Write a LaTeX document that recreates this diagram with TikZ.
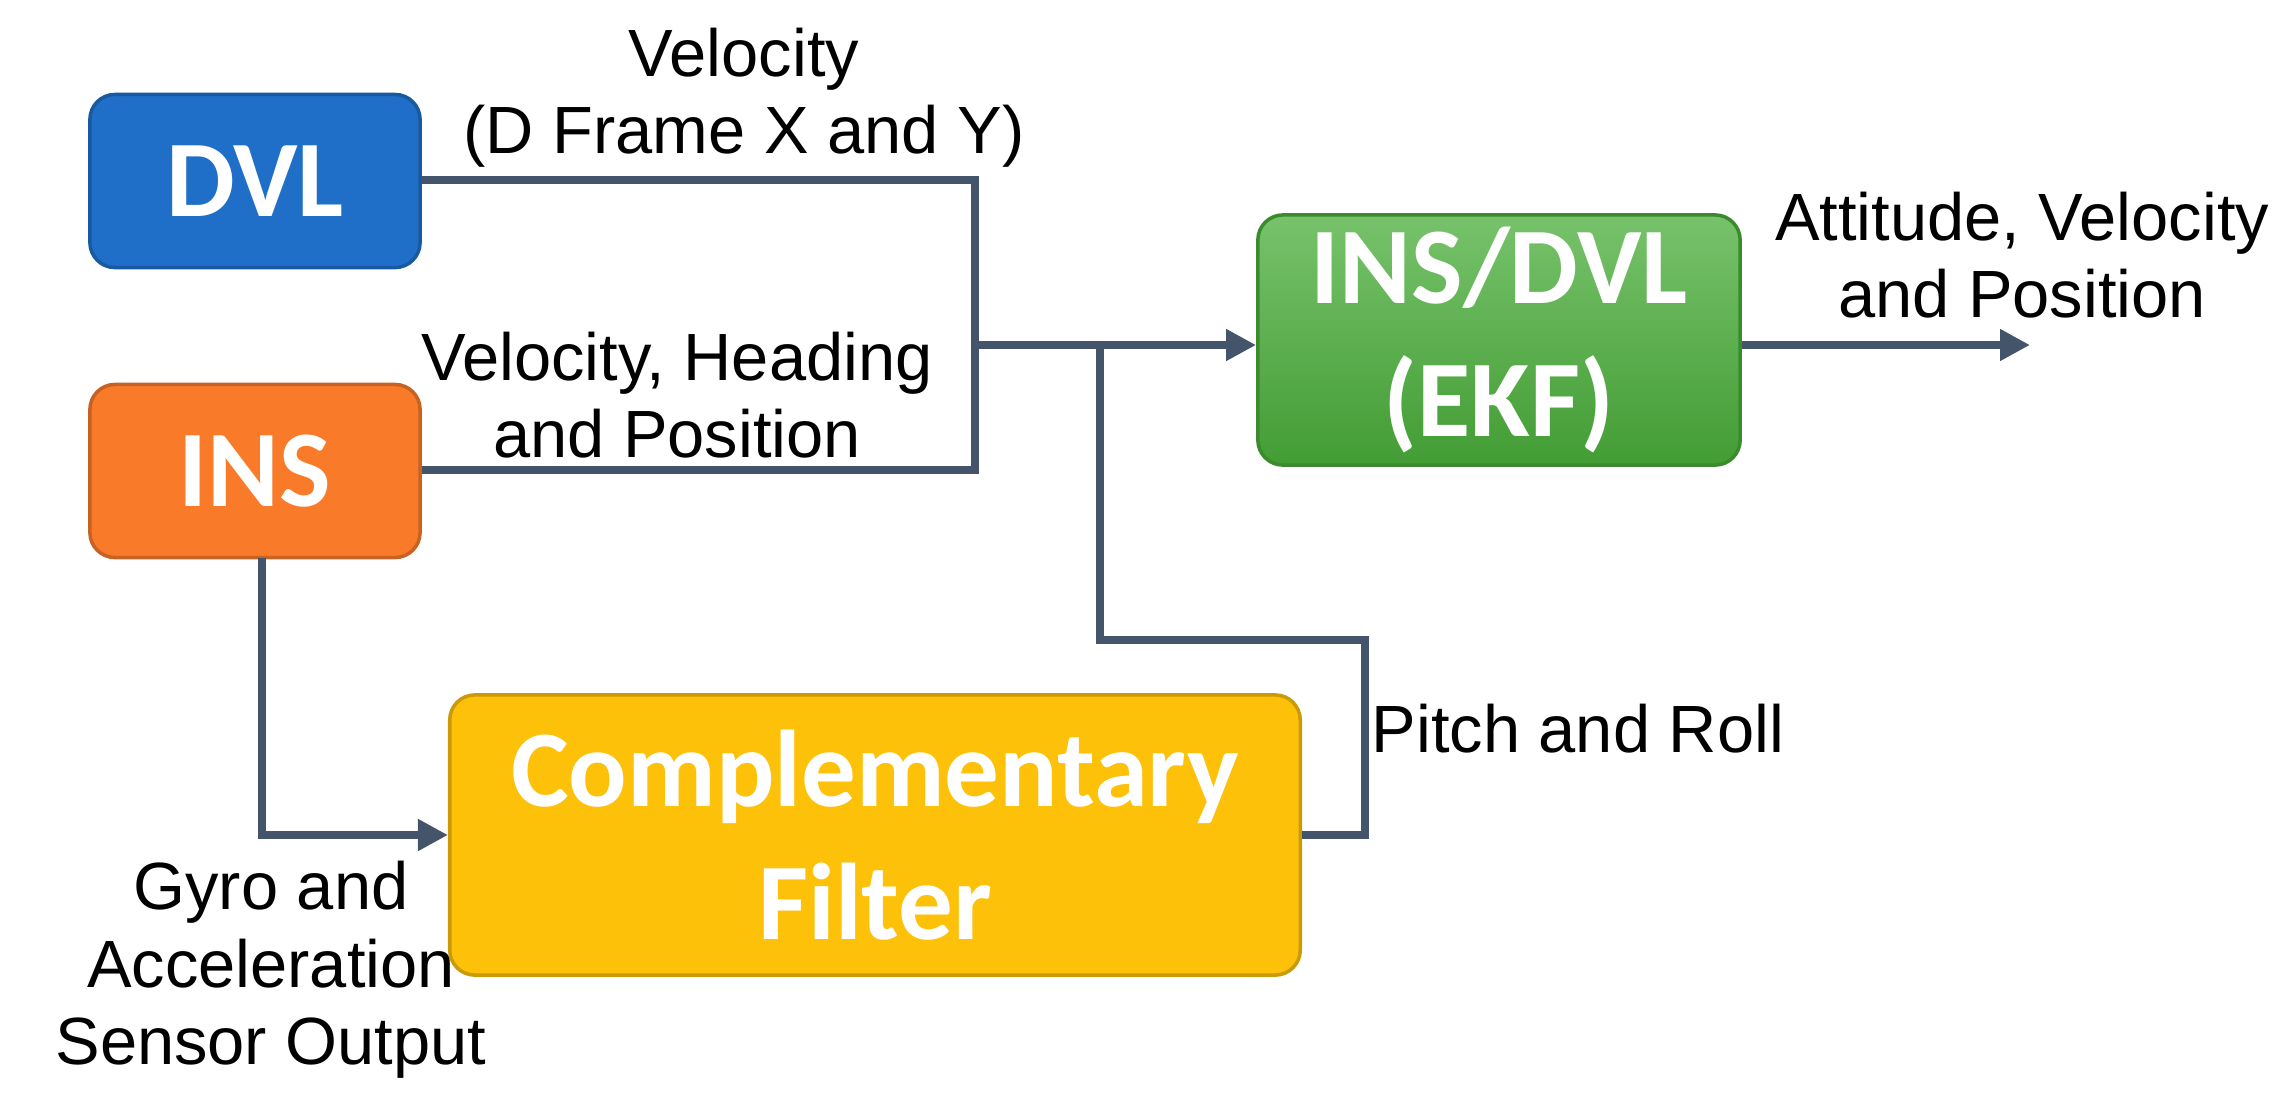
\documentclass[tikz,border=0pt]{standalone}
\usepackage{fontspec}
\setmainfont{Liberation Sans}
\newfontfamily\boxfont{Carlito}
\usetikzlibrary{arrows.meta}
\definecolor{lc}{HTML}{44546A}
\definecolor{cdvl}{HTML}{1F6FC8}
\definecolor{cins}{HTML}{F97B2A}
\definecolor{cekf}{HTML}{4AAE3A}
\definecolor{ccf}{HTML}{FDC10A}
\begin{document}
\begin{tikzpicture}[x=0.01cm,y=-0.01cm,
  blk/.style={draw=#1!80!black,line width=1pt,fill=#1,rounded corners=0.25cm,text=white,font=\boxfont\bfseries\fontsize{31}{38}\selectfont,align=center,inner sep=0pt},
  ln/.style={draw=lc,line width=0.08cm},
  arr/.style={ln,-{Triangle[length=0.3cm,width=0.3cm]}},
  lab/.style={font=\fontsize{19}{22}\selectfont,align=center,inner sep=0pt}]
\useasboundingbox (0,0) rectangle (2287,1099);
\node[blk=cdvl,minimum width=3.3cm,minimum height=1.73cm] (dvl) at (255,181) {DVL};
\node[blk=cins,minimum width=3.3cm,minimum height=1.73cm] (ins) at (255,471) {INS};
\node[blk=cekf,minimum width=4.82cm,minimum height=2.5cm,top color=cekf!75!white,bottom color=cekf!90!black] (ekf) at (1499,340) {INS/DVL\\(EKF)};
\node[blk=ccf,minimum width=8.5cm,minimum height=2.8cm] (cf) at (875,835) {Complementary\\Filter};
\coordinate (j1) at (975,180);
\coordinate (j2) at (975,470);
\coordinate (jm) at (975,345);
\coordinate (jb) at (1100,345);
\coordinate (out) at (2030,345);
\draw[ln] (dvl.east|-j1) -- (j1) -- (j2) -- (ins.east|-j2);
\draw[arr] (jm) -- (ekf.west|-jm);
\draw[ln] (cf.east|-0,835) -- (1365,835) -- (1365,640) -- (1100,640) -- (jb);
\draw[arr] (262,558) -- (262,835) -- (cf.west|-0,835);
\draw[arr] (ekf.east|-out) -- (out);
\node[lab] (t1) at (744,98) {Velocity\\(D Frame X and Y)};
\node[lab] (t2) at (677,395) {Velocity, Heading\\and Position};
\node[lab] (t3) at (2022,255) {Attitude, Velocity\\and Position};
\node[lab,anchor=west] (t4) at (1371,729) {Pitch and Roll};
\node[lab] (t5) at (271,970) {Gyro and\\Acceleration\\Sensor Output};
\end{tikzpicture}
\end{document}
